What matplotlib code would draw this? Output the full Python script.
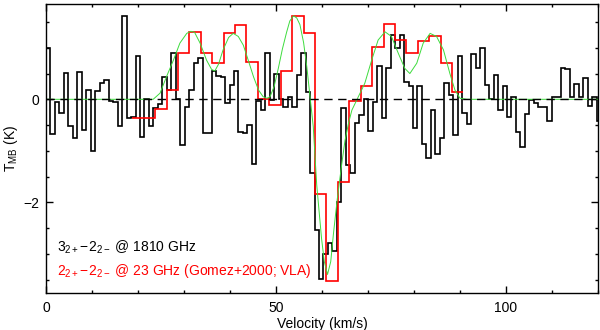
import numpy as np
import matplotlib
matplotlib.use("Agg")
import matplotlib.pyplot as plt
from matplotlib.ticker import MultipleLocator

# 1810 GHz spectrum (black), channel width in km/s, first channel edge at 0
black_dv = 0.973
black_tmb = [0.99, -0.67, -0.06, -0.27, 0.52, -0.52, -0.75, 0.53, -0.60, 0.19,
             -1.00, 0.17, 0.32, 0.37, -0.03, -0.05, -0.52, 1.62, -0.37, -0.35,
             0.85, -0.73, 0.00, -0.52, -0.16, -0.10, 0.43, 0.19, 0.90, 0.00,
             -0.89, -0.14, 0.19, 0.70, 0.80, -0.66, -0.66, 0.54, 0.45, 0.44,
             -0.08, 0.27, 0.54, -0.63, -0.66, -0.50, -1.26, -0.03, -0.20, 0.89,
             -0.01, 0.49, 0.00, -0.14, 0.05, -0.14, 0.47, 0.89, 0.15, -1.44,
             -2.54, -3.49, -3.00, -2.78, -2.94, -1.99, -0.17, -1.28, -1.44, -0.46,
             -0.30, 0.00, -0.62, -0.06, 0.65, -0.37, 0.60, 1.25, 0.99, 1.25,
             0.34, 0.26, -0.55, 0.25, -0.86, -1.13, -0.20, -1.06, -0.76, 0.31,
             0.08, -0.69, 0.84, -0.27, -0.47, 0.88, 0.60, 1.00, 0.28, 0.00,
             0.47, -0.20, 0.25, -0.34, 0.05, -0.63, -0.92, -0.29, -0.02, -0.08,
             -0.14, -0.14, -0.43, 0.04, 0.04, 0.60, 0.58, 0.04, 0.30, 0.04,
             0.41, -0.13, 0.05, -0.43]

# 23 GHz VLA spectrum (red)
red_v0 = 18.75
red_dv = 2.483
red_tmb = [-0.37, -0.37, -0.18, 0.19, 0.89, 1.31, 0.89, 0.71, 1.28, 1.44,
           0.73, 0.00, -0.11, 0.54, 1.62, 1.28, -1.83, -3.52, -1.60, -0.04,
           0.26, 1.02, 1.46, 1.16, 0.89, 1.14, 1.22, 0.71, 0.15]

# fitted profile (green)
fit_v = [0, 22.0, 23.3, 24.8, 26.2, 27.7, 29.1, 30.6, 31.5, 32.3, 33.5, 34.9,
         36.0, 36.7, 37.5, 38.5, 39.7, 40.7, 41.8, 42.9, 44.0, 45.1, 46.2, 47.2,
         48.0, 48.7, 49.6, 50.5, 51.4, 52.3, 53.0, 53.8, 54.5, 55.2, 56.0, 56.7,
         57.4, 58.1, 58.85, 59.9, 60.5, 61.2, 61.9, 62.5, 63.3, 64.3, 65.0, 65.8,
         66.5, 67.9, 69.3, 70.8, 72.2, 73.7, 75.1, 76.6, 78.0, 79.1, 80.6, 82.0,
         83.5, 84.9, 86.4, 87.8, 88.9, 90.0, 91.5, 120]
fit_tmb = [0, 0.0, 0.0, 0.12, 0.44, 0.76, 1.09, 1.28, 1.32, 1.30, 1.09, 0.76,
           0.58, 0.55, 0.68, 0.96, 1.20, 1.28, 1.22, 1.05, 0.75, 0.44, 0.18, 0.05,
           0.02, 0.05, 0.25, 0.60, 0.98, 1.30, 1.52, 1.62, 1.58, 1.45, 1.10, 0.63,
           0.05, -0.53, -1.66, -2.70, -3.15, -3.40, -3.15, -2.60, -1.95, -1.25, -0.80, -0.45,
           -0.21, 0.05, 0.31, 0.76, 1.15, 1.31, 1.22, 0.89, 0.60, 0.50, 0.70, 1.09,
           1.28, 1.22, 0.96, 0.50, 0.18, 0.02, 0.0, 0]

plt.rcParams['font.family'] = ['Liberation Sans', 'DejaVu Sans']
plt.rcParams['mathtext.fontset'] = 'custom'
plt.rcParams['mathtext.rm'] = 'Liberation Sans'
plt.rcParams['mathtext.it'] = 'Liberation Sans:italic'
plt.rcParams['mathtext.bf'] = 'Liberation Sans:bold'

fig = plt.figure(figsize=(6, 3.3), dpi=100)
ax = fig.add_axes([46/600, 1 - 293/330, 552/600, 289/330])

black_edges = np.arange(len(black_tmb) + 1) * black_dv
red_edges = red_v0 + np.arange(len(red_tmb) + 1) * red_dv

ax.stairs(black_tmb, black_edges, baseline=None, color='k', lw=1.2)
ax.stairs(red_tmb, red_edges, baseline=None, color='#ff0000', lw=1.2)
ax.plot(fit_v, fit_tmb, color='#3ddc3d', lw=0.7)
ax.axhline(0, color='k', ls=(0, (6, 4)), lw=1.0)

ax.set_xlim(0, 120)
ax.set_ylim(-3.76, 1.85)
ax.xaxis.set_major_locator(MultipleLocator(50))
ax.xaxis.set_minor_locator(MultipleLocator(10))
ax.yaxis.set_major_locator(MultipleLocator(2))
ax.yaxis.set_minor_locator(MultipleLocator(0.5))
ax.tick_params(which='both', direction='in', top=True, right=True, width=1, labelsize=10)
ax.tick_params(which='major', length=5)
ax.tick_params(which='minor', length=2.5)
ax.tick_params(axis='x', pad=6)
ax.tick_params(axis='y', pad=5)
for s in ax.spines.values():
    s.set_linewidth(1.0)

ax.set_xlabel('Velocity (km/s)', fontsize=10, labelpad=1)
ax.set_ylabel(r'$\mathrm{T_{MB}}$ (K)', fontsize=10, labelpad=2)

ax.text(2.4, -2.87, r'$3_{2+}\!-\!2_{2-}$ @ 1810 GHz', color='k', fontsize=10, va='center')
ax.text(2.4, -3.33, r'$2_{2+}\!-\!2_{2-}$ @ 23 GHz (Gomez+2000; VLA)', color='#ff0000',
        fontsize=10, va='center')

fig.savefig('out.png', dpi=100)
